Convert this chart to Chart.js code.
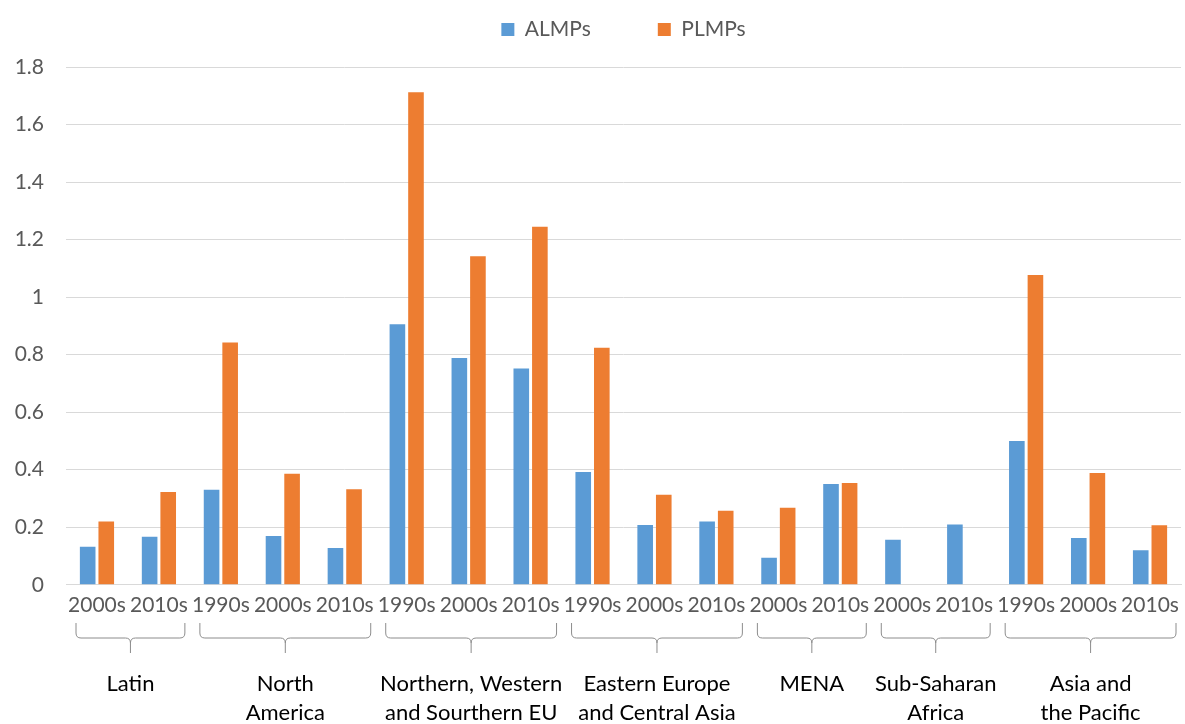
<!doctype html>
<html lang="en">
  <head>
    <meta charset="utf-8" />
    <title>ALMPs and PLMPs by region and decade</title>
    <style>
      html,
      body {
        margin: 0;
        padding: 0;
        width: 100%;
        height: 100%;
        overflow: hidden;
        background: #fff;
      }
      #chartDiv {
        position: absolute;
        left: 0;
        top: 0;
        width: 1185px;
        height: 724px;
      }
    </style>
    <script src="https://cdn.jsdelivr.net/npm/chart.js@4.4.1/dist/chart.umd.min.js"></script>
  </head>
  <body>
    <div id="chartDiv"><canvas id="lmpChart"></canvas></div>
    <script>
      // decade labels under each pair of bars
      const decades = [
        "2000s", "2010s",
        "1990s", "2000s", "2010s",
        "1990s", "2000s", "2010s",
        "1990s", "2000s", "2010s",
        "2000s", "2010s",
        "2000s", "2010s",
        "1990s", "2000s", "2010s"
      ];
      // regions, with the number of decades each one spans
      const regionNames = [
        ["Latin"],
        ["North", "America"],
        ["Northern, Western", "and Sourthern EU"],
        ["Eastern Europe", "and Central Asia"],
        ["MENA"],
        ["Sub-Saharan", "Africa"],
        ["Asia and", "the Pacific"]
      ];
      const regionSizes = [2, 3, 3, 3, 2, 2, 3];

      const almps = [
        0.132, 0.167,
        0.330, 0.170, 0.128,
        0.906, 0.788, 0.752,
        0.392, 0.208, 0.220,
        0.094, 0.350,
        0.157, 0.210,
        0.500, 0.163, 0.120
      ];
      const plmps = [
        0.220, 0.323,
        0.842, 0.386, 0.332,
        1.712, 1.142, 1.245,
        0.824, 0.313, 0.257,
        0.268, 0.354,
        null, null,
        1.077, 0.389, 0.207
      ];
      const yTicks = [0, 0.2, 0.4, 0.6, 0.8, 1, 1.2, 1.4, 1.6, 1.8];

      const fontFamily = "Lato, 'Liberation Sans', sans-serif";

      // draws the curly braces and region names below the decade labels
      const regionBraces = {
        id: "regionBraces",
        afterDraw(chart) {
          const ctx = chart.ctx;
          const x = chart.scales.x;
          const cw = x.getPixelForValue(1) - x.getPixelForValue(0);
          const top = 623;
          const mid = 638;
          const tip = 653;
          const r = 5;
          let start = 0;
          ctx.save();
          ctx.strokeStyle = "#8c8c8c";
          ctx.lineWidth = 1;
          regionSizes.forEach((size, i) => {
            const left = x.getPixelForValue(start) - cw / 2 + 10;
            const right = x.getPixelForValue(start + size - 1) + cw / 2 - 5;
            const c = (left + right) / 2;
            ctx.beginPath();
            ctx.moveTo(left, top);
            ctx.lineTo(left, mid - r);
            ctx.quadraticCurveTo(left, mid, left + r, mid);
            ctx.lineTo(c - r, mid);
            ctx.quadraticCurveTo(c, mid, c, mid + r);
            ctx.lineTo(c, tip);
            ctx.moveTo(c, mid + r);
            ctx.quadraticCurveTo(c, mid, c + r, mid);
            ctx.lineTo(right - r, mid);
            ctx.quadraticCurveTo(right, mid, right, mid - r);
            ctx.lineTo(right, top);
            ctx.stroke();

            ctx.fillStyle = "#000";
            ctx.font = "22px " + fontFamily;
            ctx.textAlign = "center";
            ctx.textBaseline = "middle";
            regionNames[i].forEach((line, j) => {
              ctx.fillText(line, c, 684 + j * 29);
            });
            start += size;
          });
          ctx.restore();
        }
      };

      // fix the legend height so the plot starts where the original does,
      // and centre the legend over the plot area rather than the canvas
      const legendPlacement = {
        id: "legendPlacement",
        beforeInit(chart) {
          const fit = chart.legend.fit;
          chart.legend.fit = function () {
            fit.bind(chart.legend)();
            this.height = 115;
          };
        },
        beforeDraw(chart) {
          chart.legend.left = chart.chartArea.left;
        }
      };

      new Chart(document.getElementById("lmpChart"), {
        type: "bar",
        data: {
          labels: decades,
          datasets: [
            {
              label: "ALMPs",
              data: almps,
              backgroundColor: "#5b9bd5",
              barPercentage: 0.84,
              categoryPercentage: 0.6
            },
            {
              label: "PLMPs",
              data: plmps,
              backgroundColor: "#ed7d31",
              barPercentage: 0.84,
              categoryPercentage: 0.6
            }
          ]
        },
        options: {
          responsive: true,
          maintainAspectRatio: false,
          animation: false,
          layout: {
            padding: { left: 0, right: 4, top: -48, bottom: 106 }
          },
          plugins: {
            legend: {
              position: "top",
              labels: {
                boxWidth: 13,
                boxHeight: 13,
                padding: 67,
                color: "#595959",
                font: { family: fontFamily, size: 21 }
              }
            },
            tooltip: { enabled: false }
          },
          scales: {
            x: {
              grid: { display: false },
              border: { color: "#d9d9d9", width: 1 },
              ticks: {
                color: "#595959",
                padding: 0,
                maxRotation: 0,
                autoSkip: false,
                font: { family: fontFamily, size: 21 }
              }
            },
            y: {
              min: 0,
              max: 1.8,
              afterBuildTicks: (axis) => {
                axis.ticks = yTicks.map((v) => ({ value: v }));
              },
              afterFit: (axis) => {
                axis.width = 66;
              },
              grid: { color: "#d9d9d9", lineWidth: 1, drawTicks: false },
              border: { display: false },
              ticks: {
                color: "#595959",
                padding: 22,
                font: { family: fontFamily, size: 21 },
                callback: (v) => String(Math.round(v * 10) / 10)
              }
            }
          }
        },
        plugins: [regionBraces, legendPlacement]
      });
    </script>
  </body>
</html>
